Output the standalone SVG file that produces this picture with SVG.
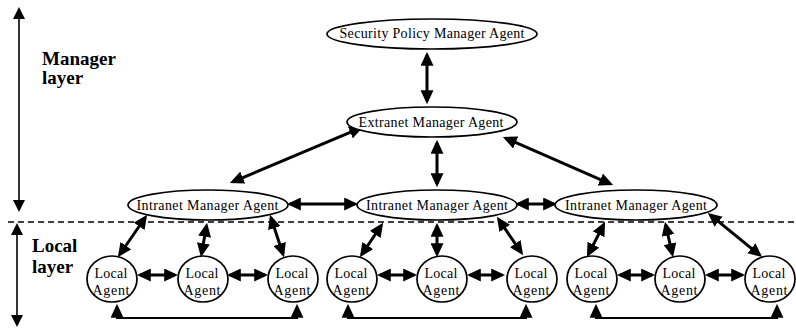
<svg xmlns="http://www.w3.org/2000/svg" width="796" height="329" viewBox="0 0 796 329">
  <style>
    .node { fill: #fff; stroke: #000; stroke-width: 1.7; }
    .lbl { font-family: "Liberation Serif", "Times New Roman", serif; font-size: 14px; fill: #000; text-anchor: middle; }
    .layer { font-family: "Liberation Serif", "Times New Roman", serif; font-size: 19px; font-weight: bold; fill: #000; }
    .link { fill: none; stroke: #000; stroke-width: 3; marker-start: url(#head); marker-end: url(#head); }
    .loop { fill: none; stroke: #000; stroke-width: 2; marker-start: url(#head); marker-end: url(#head); }
    .axis { fill: none; stroke: #000; stroke-width: 1.6; marker-start: url(#thin); marker-end: url(#thin); }
  </style>
  <defs>
    <marker id="head" viewBox="0 0 14 13" refX="10.8" refY="6.5" markerWidth="14" markerHeight="13" markerUnits="userSpaceOnUse" orient="auto-start-reverse">
      <path d="M0,0 L14,6.5 L0,13 z" fill="#000"/>
    </marker>
    <marker id="thin" viewBox="0 0 12 12" refX="10" refY="6" markerWidth="12" markerHeight="12" markerUnits="userSpaceOnUse" orient="auto-start-reverse">
      <path d="M0,0 L12,6 L0,12 z" fill="#000"/>
    </marker>
  </defs>

  <!-- layer axis and labels -->
  <g id="layers">
    <line class="axis" x1="19" y1="9" x2="19" y2="210"/>
    <line class="axis" x1="17" y1="225" x2="17" y2="325"/>
    <line x1="8" y1="222" x2="796" y2="222" stroke="#000" stroke-width="1.6" stroke-dasharray="6 4"/>
    <text class="layer" x="42" y="65">Manager</text>
    <text class="layer" x="42" y="84">layer</text>
    <text class="layer" x="32" y="252">Local</text>
    <text class="layer" x="32" y="273">layer</text>
  </g>

  <!-- connectors -->
  <g id="connectors">
    <line class="link" x1="427" y1="55" x2="427" y2="101"/>
    <line class="link" x1="360.2" y1="128.2" x2="232.8" y2="181.8"/>
    <line class="link" x1="437" y1="143" x2="437" y2="184"/>
    <line class="link" x1="505.8" y1="138.2" x2="610.2" y2="183.8"/>
    <line class="link" x1="290" y1="204" x2="355" y2="204"/>
    <line class="link" x1="518" y1="204" x2="554" y2="204"/>

    <line class="link" x1="145.3" y1="217.5" x2="119.7" y2="254.5"/>
    <line class="link" x1="206.5" y1="226" x2="201.5" y2="254"/>
    <line class="link" x1="271" y1="217.8" x2="283" y2="254.2"/>

    <line class="link" x1="381.3" y1="225.5" x2="361.7" y2="254.5"/>
    <line class="link" x1="437" y1="226" x2="437" y2="254"/>
    <line class="link" x1="498.7" y1="219.5" x2="521.3" y2="252.5"/>

    <line class="link" x1="603.6" y1="224.7" x2="588.4" y2="254.3"/>
    <line class="link" x1="665.7" y1="224.9" x2="672.3" y2="254.1"/>
    <line class="link" x1="710.3" y1="214.9" x2="759.7" y2="255.1"/>

    <line class="link" x1="140" y1="275" x2="175" y2="275"/>
    <line class="link" x1="230" y1="275" x2="265" y2="275"/>
    <line class="link" x1="380" y1="275" x2="414" y2="275"/>
    <line class="link" x1="470" y1="275" x2="502" y2="275"/>
    <line class="link" x1="620" y1="275" x2="652" y2="275"/>
    <line class="link" x1="708" y1="275" x2="742" y2="275"/>

    <path class="loop" d="M117,307 V318 H297 V307"/>
    <path class="loop" d="M348,307 V318 H526 V307"/>
    <path class="loop" d="M596,307 V318 H777 V307"/>
  </g>

  <!-- manager agents -->
  <g id="security-policy-manager">
    <ellipse class="node" cx="432" cy="34" rx="105" ry="15"/>
    <text class="lbl" x="432" y="38" textLength="185" lengthAdjust="spacing">Security Policy Manager Agent</text>
  </g>
  <g id="extranet-manager">
    <ellipse class="node" cx="432" cy="122" rx="85" ry="15"/>
    <text class="lbl" x="431" y="127" textLength="145" lengthAdjust="spacing">Extranet Manager Agent</text>
  </g>
  <g id="intranet-manager-1">
    <ellipse class="node" cx="208" cy="205" rx="80" ry="15"/>
    <text class="lbl" x="207.5" y="210" textLength="142" lengthAdjust="spacing">Intranet Manager Agent</text>
  </g>
  <g id="intranet-manager-2">
    <ellipse class="node" cx="437" cy="205" rx="80" ry="15"/>
    <text class="lbl" x="437" y="210" textLength="142" lengthAdjust="spacing">Intranet Manager Agent</text>
  </g>
  <g id="intranet-manager-3">
    <ellipse class="node" cx="636" cy="205" rx="81" ry="15"/>
    <text class="lbl" x="636" y="210" textLength="142" lengthAdjust="spacing">Intranet Manager Agent</text>
  </g>

  <!-- local agents -->
  <g id="local-1"><ellipse class="node" cx="112" cy="279" rx="25" ry="23"/><text class="lbl" x="111" y="278" textLength="33" lengthAdjust="spacing">Local</text><text class="lbl" x="111" y="295" textLength="37" lengthAdjust="spacing">Agent</text></g>
  <g id="local-2"><ellipse class="node" cx="203" cy="279" rx="25" ry="23"/><text class="lbl" x="202" y="278" textLength="33" lengthAdjust="spacing">Local</text><text class="lbl" x="202" y="295" textLength="37" lengthAdjust="spacing">Agent</text></g>
  <g id="local-3"><ellipse class="node" cx="293" cy="279" rx="25" ry="23"/><text class="lbl" x="292" y="278" textLength="33" lengthAdjust="spacing">Local</text><text class="lbl" x="292" y="295" textLength="37" lengthAdjust="spacing">Agent</text></g>
  <g id="local-4"><ellipse class="node" cx="352" cy="279" rx="25" ry="23"/><text class="lbl" x="351" y="278" textLength="33" lengthAdjust="spacing">Local</text><text class="lbl" x="351" y="295" textLength="37" lengthAdjust="spacing">Agent</text></g>
  <g id="local-5"><ellipse class="node" cx="442" cy="279" rx="25" ry="23"/><text class="lbl" x="441" y="278" textLength="33" lengthAdjust="spacing">Local</text><text class="lbl" x="441" y="295" textLength="37" lengthAdjust="spacing">Agent</text></g>
  <g id="local-6"><ellipse class="node" cx="532" cy="279" rx="25" ry="23"/><text class="lbl" x="531" y="278" textLength="33" lengthAdjust="spacing">Local</text><text class="lbl" x="531" y="295" textLength="37" lengthAdjust="spacing">Agent</text></g>
  <g id="local-7"><ellipse class="node" cx="592" cy="279" rx="25" ry="23"/><text class="lbl" x="591" y="278" textLength="33" lengthAdjust="spacing">Local</text><text class="lbl" x="591" y="295" textLength="37" lengthAdjust="spacing">Agent</text></g>
  <g id="local-8"><ellipse class="node" cx="680" cy="279" rx="25" ry="23"/><text class="lbl" x="679" y="278" textLength="33" lengthAdjust="spacing">Local</text><text class="lbl" x="679" y="295" textLength="37" lengthAdjust="spacing">Agent</text></g>
  <g id="local-9"><ellipse class="node" cx="770" cy="279" rx="25" ry="23"/><text class="lbl" x="769" y="278" textLength="33" lengthAdjust="spacing">Local</text><text class="lbl" x="769" y="295" textLength="37" lengthAdjust="spacing">Agent</text></g>
</svg>
